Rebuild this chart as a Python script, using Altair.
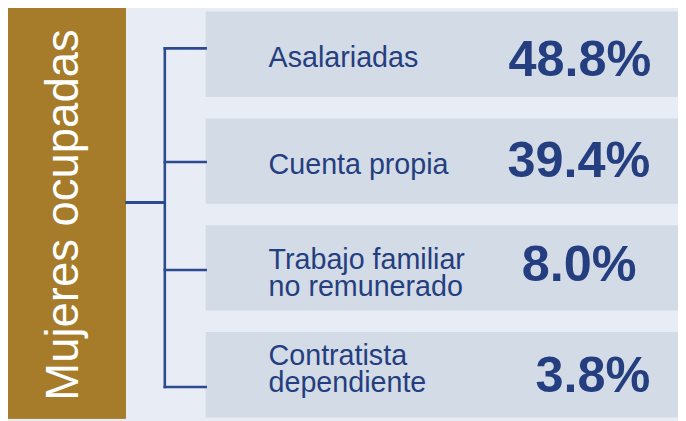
import altair as alt
import pandas as pd

# ---- data ----
title = "Mujeres ocupadas"
categories = ["Asalariadas", "Cuenta propia", "Trabajo familiar\nno remunerado", "Contratista\ndependiente"]
values = [48.8, 39.4, 8.0, 3.8]

# ---- layout nudges (pixels, relative to each row's band centre) ----
label_dy = [12.7, 13.3, 1.7, -9.3]
value_dy = [22, 16.3, 13.4, 17.3]
value_dx = [0, -1, -15, -1]
branch_dy = [-5.7, 1.1, 2.2, 12.5]
HALF_BAND = 43  # offsets are measured from the band's start

GOLD = "#A67C2B"
BG = "#E8ECF4"
PANEL = "#D3DBE6"
BLUE = "#243E80"
LINE = "#2B4A8F"
FONT = "Liberation Sans"

df = pd.DataFrame({
    "cat": categories,
    "val": values,
    "txt": [f"{v:.1f}%" for v in values],
    "idx": list(range(len(categories))),
    "ldy": [d + HALF_BAND for d in label_dy],
    "vdy": [d + HALF_BAND for d in value_dy],
    "vdx": value_dx,
    "bdy": [d + HALF_BAND for d in branch_dy],
})

W, H = 678, 413
yenc = alt.Y("cat:N", sort=categories,
             scale=alt.Scale(domain=categories, paddingInner=0.2012, paddingOuter=0.01),
             axis=None)

base = alt.Chart(df)

gold = base.mark_rect(color=GOLD).encode(
    x=alt.value(-3), x2=alt.value(119), y=alt.value(-4), y2=alt.value(H)
)

title_txt = alt.Chart(pd.DataFrame({"t": [title]})).mark_text(
    angle=270, align="center", baseline="alphabetic", font=FONT, fontSize=46, color="white"
).encode(x=alt.value(71), y=alt.value(207), text="t:N")

panels = base.mark_bar(color=PANEL).encode(
    x=alt.value(200), x2=alt.value(W), y=yenc
)

branches = base.mark_rule(color=LINE, strokeWidth=2.6, strokeCap="square").encode(
    x=alt.value(158.7), x2=alt.value(200), y=yenc,
    yOffset=alt.YOffset("bdy:Q", scale=None),
)

trunk_v = base.mark_line(color=LINE, strokeWidth=2.6, strokeCap="square").encode(
    x=alt.value(158.7), y=yenc,
    yOffset=alt.YOffset("bdy:Q", scale=None),
    order="idx:Q",
)

trunk_h = base.mark_rule(color=LINE, strokeWidth=2.6).encode(
    x=alt.value(119), x2=alt.value(158.7), y=alt.value(194.3)
)

labels = base.mark_text(
    align="left", baseline="alphabetic", font=FONT, fontSize=29, lineHeight=27,
    color=BLUE, lineBreak="\n"
).encode(
    x=alt.value(263.7), y=yenc, text="cat:N",
    yOffset=alt.YOffset("ldy:Q", scale=None),
)

vals = base.mark_text(
    align="right", baseline="alphabetic", font=FONT, fontSize=51, fontWeight="bold",
    color=BLUE
).encode(
    x=alt.value(651), y=yenc, text="txt:N",
    xOffset=alt.XOffset("vdx:Q", scale=None),
    yOffset=alt.YOffset("vdy:Q", scale=None),
)

chart = alt.layer(
    gold, title_txt, panels, trunk_v, branches, trunk_h, labels, vals
).properties(
    width=W, height=H, background=BG, padding=0,
    autosize=alt.AutoSizeParams(type="none")
).configure_view(stroke=None)

chart.save("out.html", embed_options={"renderer": "svg", "actions": False})
